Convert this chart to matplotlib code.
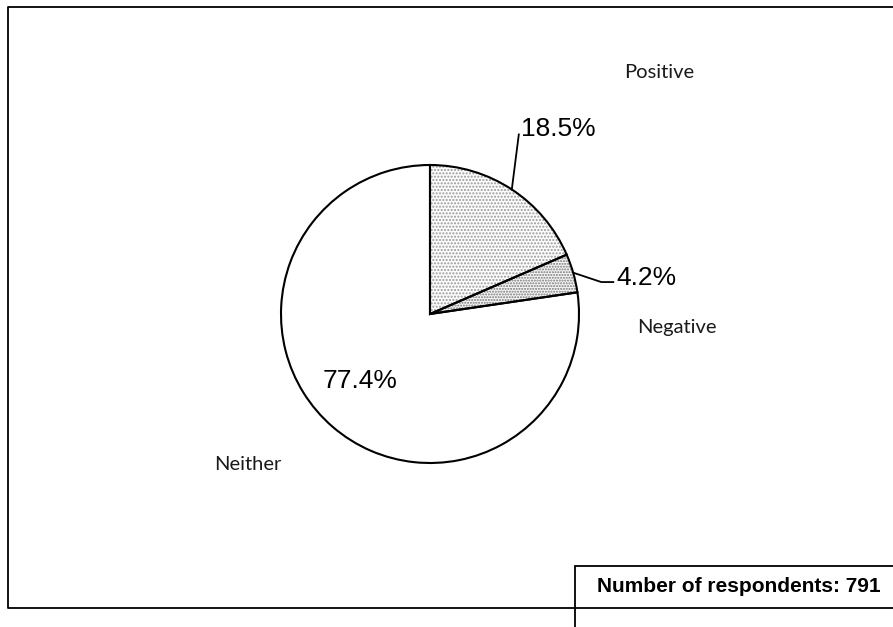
import numpy as np
import matplotlib.pyplot as plt
from matplotlib.patches import Rectangle

# data
categories = ["Positive", "Negative", "Neither"]
shares = [18.5, 4.2, 77.4]
pct_labels = ["18.5%", "4.2%", "77.4%"]
respondents = 791

W, H = 893, 627
fig = plt.figure(figsize=(W / 100, H / 100), dpi=100)
ax = fig.add_axes([0, 0, 1, 1])

cx, cy, r = 430, 313, 149

# fill layer (dotted patterns), then outline layer
fills = ax.pie(shares, startangle=90, counterclock=False, center=(cx, cy),
               radius=r, frame=True,
               wedgeprops=dict(linewidth=0, edgecolor="#9a9a9a"))[0]
fills[0].set_facecolor("#fcfcfc")
fills[0].set_hatch(".....")
fills[1].set_facecolor("#f7f7f7")
fills[1].set_hatch("......")
fills[1].set_edgecolor("#777777")
fills[2].set_facecolor("white")

outl = ax.pie(shares, startangle=90, counterclock=False, center=(cx, cy),
              radius=r, frame=True,
              wedgeprops=dict(linewidth=1.5, edgecolor="black", fill=False))[0]
ax.set_xlim(0, W)
ax.set_ylim(0, H)
ax.set_aspect("equal")
ax.axis("off")

pct_font = dict(family="Liberation Sans", fontsize=19, color="black")
cat_font = dict(family="Lato", fontsize=14.5, color="#1a1a1a")

# mid angles of wedges
bounds = 90 - np.cumsum([0] + shares) * 3.6
mids = np.radians((bounds[:-1] + bounds[1:]) / 2)

# Positive leader
a = mids[0]
p0 = (cx + r * np.cos(a), cy + r * np.sin(a))
ax.plot([p0[0], p0[0] + 7], [p0[1], p0[1] + 55], color="black", lw=1.3)
ax.text(p0[0] + 9, p0[1] + 60, pct_labels[0], ha="left", va="center", **pct_font)

# Negative leader
a = mids[1]
p1 = (cx + (r + 1) * np.cos(a), cy + (r + 1) * np.sin(a))
ax.plot([p1[0], p1[0] + 27, p1[0] + 39], [p1[1], p1[1] - 9, p1[1] - 9],
        color="black", lw=1.3)
ax.text(p1[0] + 42, p1[1] - 5, pct_labels[1], ha="left", va="center", **pct_font)

# Neither percentage inside
ax.text(360, H - 381, pct_labels[2], ha="center", va="center", **pct_font)

# category labels
ax.text(659, H - 72, categories[0], ha="center", va="center", **cat_font)
ax.text(677, H - 327, categories[1], ha="center", va="center", **cat_font)
ax.text(248, H - 465, categories[2], ha="center", va="center", **cat_font)

# outer frame (right side runs off the picture)
ax.plot([W + 5, 8, 8, W + 5], [H - 7, H - 7, H - 608, H - 608],
        color="black", lw=1.3, clip_on=False)

# respondents box
ax.add_patch(Rectangle((575, -10), 400, H - 566 + 10, facecolor="white",
                       edgecolor="black", lw=1.3))
ax.text(597, H - 587, f"Number of respondents: {respondents}", ha="left",
        va="center", family="Liberation Sans", fontweight="bold", fontsize=15)

fig.savefig("out.png", dpi=100, facecolor="white")
